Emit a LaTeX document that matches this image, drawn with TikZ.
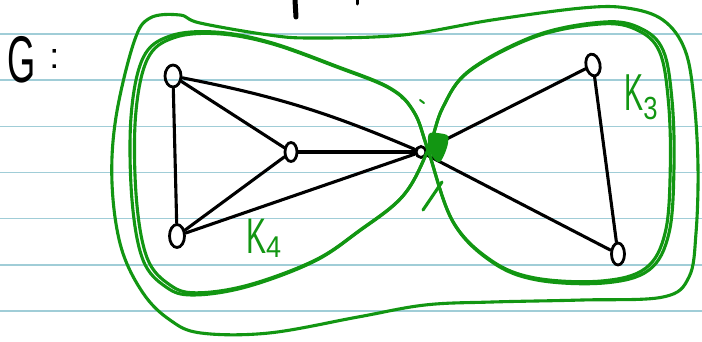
\documentclass[tikz,border=0pt]{standalone}
\usepackage{fontspec}
\setmainfont{Liberation Sans}
\usetikzlibrary{shapes.geometric}
\definecolor{marker}{RGB}{18,150,18}
\definecolor{rulecol}{RGB}{160,205,215}
% closed curve round both blocks, crossing itself at the cut vertex
\newcommand{\blockloops}{plot[smooth cycle,tension=0.6] coordinates {
  (428,150) (414,112) (390,88) (336,66) (269,42) (215,32) (170,36) (143,58)
  (131,117) (132,200) (143,260) (166,287) (193,295) (246,287) (313,262)
  (358,232) (403,196) (428,150) (443,107) (470,70) (537,35) (604,22)
  (640,28) (663,50) (672,100) (674,167) (669,233) (649,270) (604,283)
  (537,280) (492,262) (453,222)}}
\begin{document}
\begin{tikzpicture}[x=1pt,y=-1pt,
  vtx/.style={ellipse,draw=black,line width=2.8pt,minimum width=12pt,minimum height=19pt,inner sep=0pt},
  edge/.style={draw=black,line width=3.1pt,line cap=round,line join=round},
  hl/.style={draw=marker,line width=3.1pt,line cap=round,line join=round},
  ruling/.style={draw=rulecol,line width=1.4pt},
  lbl/.style={text=marker,inner sep=0pt}]
\fill[white] (0,0) rectangle (702,341);
\useasboundingbox (0,0) rectangle (702,341);
% notebook ruling
\foreach \yy in {34,80,126.5,172.5,218.5,265,311}
  \draw[ruling] (0,\yy) -- (702,\yy);

% title
\node[inner sep=0pt,anchor=south west] (title) at (7,83)
  {\fontsize{66}{66}\selectfont\scalebox{0.55}[1]{G}\hspace{14pt}\raisebox{14pt}{\fontsize{36}{36}\selectfont:}};

% cut-off strokes of the line above
\draw[edge,line width=5pt] (295,0) -- (296,17);
\draw[edge,line width=3pt] (357,0) -- (357,4);

% vertices
\node[vtx,minimum width=16pt,minimum height=22pt] (a) at (173,76) {};
\node[vtx] (b) at (291,152) {};
\node[vtx,minimum width=15pt,minimum height=23pt] (c) at (177,236) {};
\node[vtx,minimum width=10pt,minimum height=11pt] (d) at (421,152) {};
\node[vtx,rotate=12,minimum width=14pt,minimum height=22pt] (e) at (593,65) {};
\node[vtx,minimum width=13pt,minimum height=22pt] (f) at (618,254) {};

% edges of K4
\draw[edge] (a) to[bend left=6] (d);
\draw[edge] (a) -- (b);
\draw[edge] (a) -- (c);
\draw[edge] (b) -- (c);
\draw[edge] (b) -- (d);
\draw[edge] (c) -- (d);
% edges of K3
\draw[edge] (d) -- (e);
\draw[edge] (d) -- (f);
\draw[edge] (e) -- (f);

% blocks, traced twice
\draw[hl] \blockloops;
\begin{scope}[shift={(428,150)},scale=0.985,shift={(-428,-150)}]
  \draw[hl] \blockloops;
\end{scope}

% whole graph
\draw[hl] plot[smooth cycle,tension=0.6] coordinates {
  (134,42) (150,18) (180,15) (200,23) (269,35) (313,38) (403,35) (492,20)
  (582,8) (627,8) (663,20) (685,50) (694,100) (698,167) (696,233) (689,277)
  (663,297) (582,300) (492,302) (425,305) (358,317) (269,333) (201,333)
  (170,320) (143,293) (121,247) (112,183) (116,117)};

% marked cut vertex
\fill[marker] plot[smooth cycle] coordinates {
  (430,133) (447,135) (448,143) (445,153) (440,162) (435,160) (430,152) (428,142)};
\draw[hl] (423,210) -- (442,182);
\fill[marker] (402,98) circle (1.6);
\draw[hl,line width=2pt] (420,100) -- (424,103);

% block labels
\node[lbl,anchor=south west] (k4) at (246,258)
  {\fontsize{50}{50}\selectfont\scalebox{0.6}[1]{K}\raisebox{-4pt}{\fontsize{30}{30}\selectfont\scalebox{0.9}[1]{4}}};
\node[lbl,anchor=south west] (k3) at (624,120)
  {\fontsize{52}{52}\selectfont\scalebox{0.55}[1]{K}\raisebox{-9pt}{\fontsize{32}{32}\selectfont\scalebox{0.8}[1]{3}}};
\end{tikzpicture}
\end{document}
